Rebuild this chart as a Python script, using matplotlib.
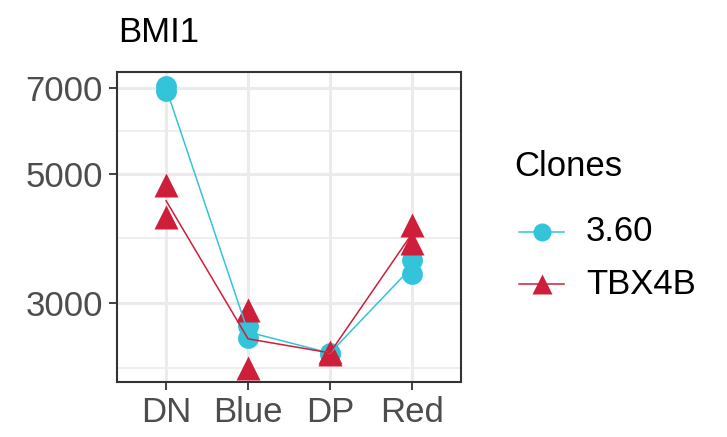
import numpy as np
import matplotlib.pyplot as plt
from matplotlib.lines import Line2D

plt.rcParams['font.family'] = ['Liberation Sans', 'DejaVu Sans']

populations = ['DN', 'Blue', 'DP', 'Red']
clone_names = ['3.60', 'TBX4B']

# two replicates per population for each clone
bmi1_360 = [[7060, 6930], [2740, 2620], [2470, 2460], [3560, 3360]]
bmi1_tbx4b = [[4780, 4220], [2925, 2325], [2480, 2455], [4090, 3800]]

colors = {'3.60': '#33C4DA', 'TBX4B': '#CE1E3A'}
markers = {'3.60': 'o', 'TBX4B': '^'}
msizes = {'3.60': 15, 'TBX4B': 17}

W, H = 727, 437
fig = plt.figure(figsize=(W / 100, H / 100), dpi=100)
ax = fig.add_axes([117 / W, 1 - 382 / H, 344 / W, 310 / H])

ax.set_yscale('log')
ax.set_ylim(2200, 7460)
ax.set_xlim(-0.6, 3.6)

major = [3000, 5000, 7000]
# minor grid halfway between majors on the log scale (plus one below)
lg = np.log10(major)
step = lg[1] - lg[0]
minor_lg = [(lg[0] - step + lg[0]) / 2, (lg[0] + lg[1]) / 2, (lg[1] + lg[2]) / 2]
for m in minor_lg:
    ax.axhline(10 ** m, color='#EBEBEB', lw=1.2, zorder=0)
for v in major:
    ax.axhline(v, color='#EBEBEB', lw=2.2, zorder=0)
x = np.arange(len(populations))
for xi in x:
    ax.axvline(xi, color='#EBEBEB', lw=2.2, zorder=0)

for name, vals in zip(clone_names, [bmi1_360, bmi1_tbx4b]):
    vals = np.array(vals, dtype=float)
    for j in range(vals.shape[1]):
        ax.plot(x, vals[:, j], ls='none', marker=markers[name],
                ms=msizes[name], color=colors[name], mec='none', zorder=3)
for name, vals in zip(clone_names, [bmi1_360, bmi1_tbx4b]):
    means = 10 ** np.log10(np.array(vals, dtype=float)).mean(axis=1)
    ax.plot(x, means, color=colors[name], lw=1.1, zorder=4)

ax.set_yticks(major)
ax.set_yticklabels([str(v) for v in major])
ax.yaxis.set_minor_locator(plt.NullLocator())
ax.set_xticks(x)
ax.set_xticklabels(populations)
ax.tick_params(axis='both', labelsize=25, colors='#333333', labelcolor='#4D4D4D',
               length=6, width=1.3, pad=4)
for s in ax.spines.values():
    s.set_color('#333333')
    s.set_linewidth(1.5)

fig.text(118 / W, 1 - 33 / H, 'BMI1', fontsize=25, color='black',
         ha='left', va='center')

# legend drawn by hand in figure pixels
fig.text(514 / W, 1 - 166 / H, 'Clones', fontsize=25, color='black',
         ha='left', va='center')
for i, name in enumerate(clone_names):
    yk = 1 - (232 + 52 * i) / H
    fig.add_artist(Line2D([519 / W, 564 / W], [yk, yk], color=colors[name],
                          lw=1.1, transform=fig.transFigure))
    fig.add_artist(Line2D([541.5 / W], [yk], ls='none', marker=markers[name],
                          ms=msizes[name] - 2, color=colors[name], mec='none',
                          transform=fig.transFigure))
    fig.text(586 / W, yk, name, fontsize=25, color='black', ha='left', va='center')

fig.savefig('out.png', dpi=100, facecolor='white')
